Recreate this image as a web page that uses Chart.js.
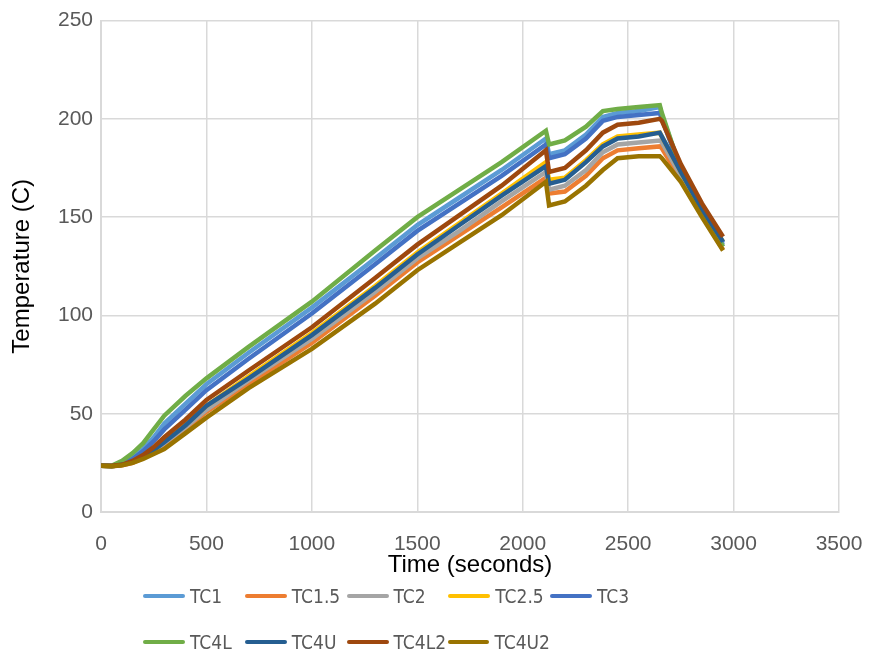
<!DOCTYPE html>
<html>
<head>
<meta charset="utf-8">
<script src="https://cdn.jsdelivr.net/npm/chart.js@4.4.1/dist/chart.umd.min.js"></script>
<style>
  html, body { margin: 0; padding: 0; background: #fff; }
  #wrap { position: relative; width: 869px; height: 652px; }
  #legend {
    position: absolute; left: 143px; top: 582px;
    display: grid; grid-template-columns: repeat(5, 101.75px); row-gap: 18px;
    font: 19px "Liberation Sans Narrow", "DejaVu Sans Condensed", sans-serif; color: #595959;
  }
  .item { display: flex; align-items: center; height: 28px; white-space: nowrap; }
  .swatch { width: 42px; height: 4px; border-radius: 2px; margin-right: 5px; }
</style>
</head>
<body>
<div id="wrap">
  <canvas id="temps" width="869" height="652"></canvas>
  <div id="legend"></div>
</div>
<script>
const times = [0, 50, 100, 150, 200, 250, 300, 400, 500, 700, 1000, 1300, 1500, 1700, 1900,
  2110, 2125, 2200, 2300, 2380, 2450, 2550, 2650, 2660, 2750, 2850, 2950];

const tc1 = [23.5, 23.5, 25, 28, 32, 38, 45, 55, 65, 81, 104, 129, 146, 160, 174,
  190, 182, 184, 192, 201, 203, 204, 206, 202, 174, 154, 136];
const tc15 = [23.5, 23.3, 23.8, 25, 27.5, 30.5, 34, 42, 51, 65, 86, 110, 127, 141, 155,
  170, 162, 163, 171, 180, 184, 185, 186, 185, 169, 151, 133.5];
const tc2 = [23.5, 23.3, 24, 25.5, 28, 31, 35, 43, 52, 67, 88, 112, 129, 143, 158,
  173, 164, 166, 174, 183, 187, 188, 189, 188, 171, 152, 135];
const tc25 = [23.5, 23.3, 24, 25.5, 28, 32, 36, 45, 54, 69, 91, 115, 132, 147, 162,
  178, 169, 170, 179, 187, 191, 192, 193, 191, 173, 154, 137.5];
const tc3 = [23.5, 23.5, 24.5, 27, 31, 36, 42, 52, 62, 78, 101, 126, 143, 157, 171,
  187, 180, 182, 190, 199, 201, 202, 203, 200, 174, 154, 137];
const tc4l = [23.5, 23.5, 26, 30, 35, 42, 49, 59, 68, 84, 107, 133, 150, 164, 178,
  194, 187, 189, 196, 204, 205, 206, 207, 203, 174, 153, 135];
const tc4u = [23.5, 23.3, 24, 25.5, 28, 31.5, 35.5, 44, 54, 68, 90, 114, 131, 146, 161,
  176, 167, 169, 178, 186, 190, 191, 193, 191, 173, 154, 137.5];
const tc4l2 = [23.5, 23.5, 24, 26, 29, 33, 38, 47, 57, 72, 94, 119, 136, 151, 166,
  184, 173, 175, 184, 193, 197, 198, 200, 199, 177, 157, 140];
const tc4u2 = [23.5, 23.3, 23.8, 25, 27, 29.5, 32, 40, 48, 63, 83, 106, 123, 137, 151,
  168, 156, 158, 166, 174, 180, 181, 181, 180, 168, 150, 133];

const seriesNames = ["TC1", "TC1.5", "TC2", "TC2.5", "TC3", "TC4L", "TC4U", "TC4L2", "TC4U2"];
const seriesValues = [tc1, tc15, tc2, tc25, tc3, tc4l, tc4u, tc4l2, tc4u2];
const seriesColors = ["#5B9BD5", "#ED7D31", "#A5A5A5", "#FFC000", "#4472C4",
  "#70AD47", "#255E91", "#9E480E", "#997300"];

const font = "'Liberation Sans', Arial, sans-serif";
const gridColor = "#d9d9d9";

const datasets = seriesNames.map((name, i) => ({
  label: name,
  data: times.map((t, j) => ({ x: t, y: seriesValues[i][j] })),
  borderColor: seriesColors[i],
  backgroundColor: seriesColors[i],
  borderWidth: 4.5,
  pointRadius: 0,
  tension: 0,
  // later series sit on top, like the original
  order: seriesNames.length - i,
}));

const ctx = document.getElementById("temps").getContext("2d");

new Chart(ctx, {
  type: "line",
  data: { datasets },
  options: {
    responsive: false,
    animation: false,
    layout: { padding: { left: 0, top: 18, right: 30, bottom: 72 } },
    plugins: {
      legend: { display: false },
      tooltip: { enabled: false },
    },
    scales: {
      x: {
        type: "linear",
        min: 0,
        max: 3500,
        ticks: { stepSize: 500, color: "#595959", padding: 3, maxRotation: 0,
          callback: (v) => String(v),
          font: { family: font, size: 21 } },
        // invisible tick marks just push the labels down
        grid: { color: gridColor, lineWidth: 1.5, drawTicks: true, tickLength: 17,
          tickColor: "rgba(0,0,0,0)" },
        border: { color: gridColor, width: 2 },
        title: { display: true, text: "Time (seconds)", color: "#000",
          padding: 0, font: { family: font, size: 24 } },
        afterFit: (scale) => { scale.height = 68; },
      },
      y: {
        min: 0,
        max: 250,
        ticks: { stepSize: 50, color: "#595959", padding: 8,
          callback: (v) => String(v),
          font: { family: font, size: 21 } },
        grid: { color: gridColor, lineWidth: 1.5, drawTicks: false },
        border: { color: gridColor, width: 2 },
        title: { display: true, text: "Temperature (C)", color: "#000",
          padding: { top: 8, bottom: 0 }, font: { family: font, size: 24 } },
        afterFit: (scale) => { scale.width = 101; },
      },
    },
  },
});

const legendEl = document.getElementById("legend");
seriesNames.forEach((name, i) => {
  const item = document.createElement("div");
  item.className = "item";
  const sw = document.createElement("span");
  sw.className = "swatch";
  sw.style.background = seriesColors[i];
  item.appendChild(sw);
  item.appendChild(document.createTextNode(name));
  legendEl.appendChild(item);
});
</script>
</body>
</html>
